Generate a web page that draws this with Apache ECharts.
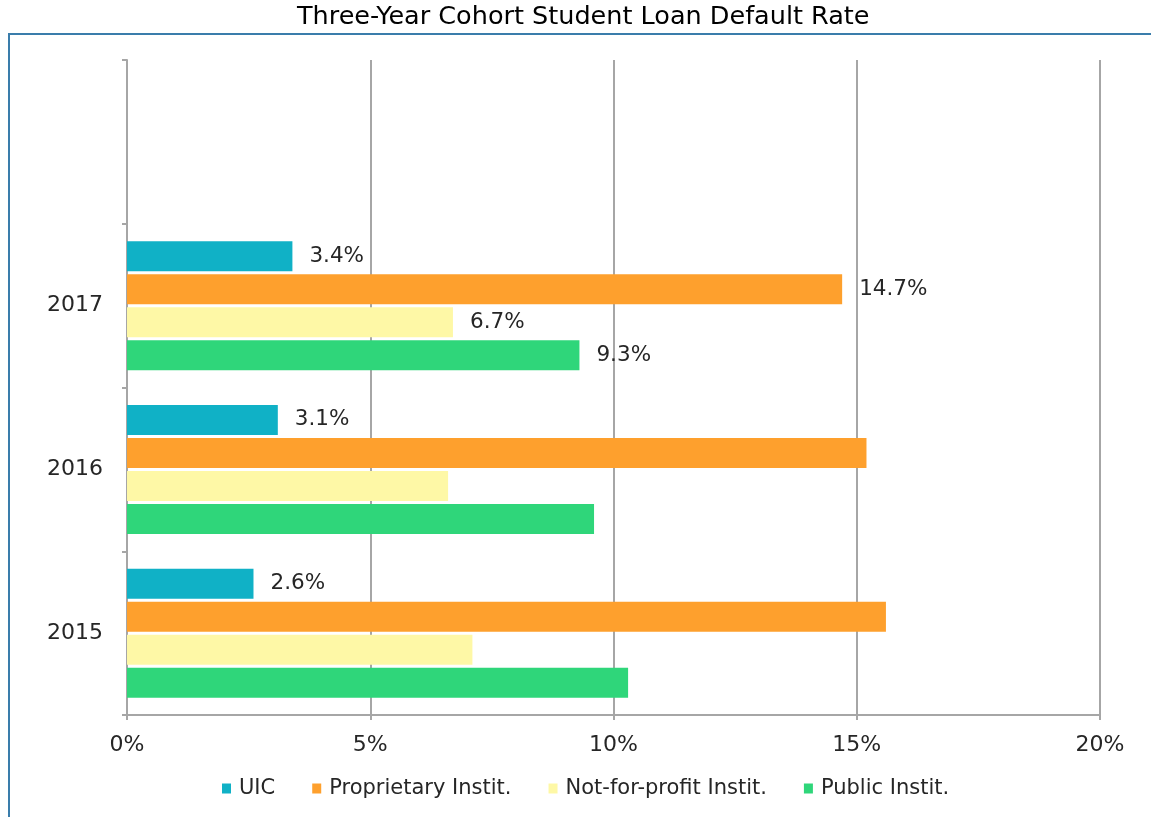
<!DOCTYPE html>
<html>
<head>
<meta charset="utf-8">
<script src="https://cdn.jsdelivr.net/npm/echarts@6/dist/echarts.min.js"></script>
<style>
html,body{margin:0;padding:0;background:#fff;}
#chart{width:1151px;height:817px;}
</style>
</head>
<body>
<div id="chart"></div>
<script>
// Data
var years = ["", "2017", "2016", "2015"];
var seriesNames = ["UIC", "Proprietary Instit.", "Not-for-profit Instit.", "Public Instit."];
var uic = [null, 3.4, 3.1, 2.6];
var proprietary = [null, 14.7, 15.2, 15.6];
var notForProfit = [null, 6.7, 6.6, 7.1];
var publicInst = [null, 9.3, 9.6, 10.3];
var xTicks = [0, 5, 10, 15, 20];
// which years carry a value label, per series
var labeledYears = [["2017", "2016", "2015"], ["2017"], ["2017"], ["2017"]];

var colors = ["#10b1c6", "#fea02d", "#fef8a6", "#2fd67a"];
var values = [uic, proprietary, notForProfit, publicInst];
var FONT = "DejaVu Sans";

function buildData(vals, labeled) {
  return vals.map(function (v, i) {
    return {
      value: v,
      label: { show: v !== null && labeled.indexOf(years[i]) >= 0 }
    };
  });
}

var series = seriesNames.map(function (name, k) {
  return {
    name: name,
    type: "bar",
    barWidth: 30,
    barGap: "10%",
    itemStyle: { color: colors[k] },
    label: {
      position: "right",
      distance: 17,
      color: "#262626",
      fontFamily: FONT,
      fontSize: 21.5,
      formatter: function (p) { return p.value.toFixed(1) + "%"; }
    },
    emphasis: { disabled: true },
    data: buildData(values[k], labeledYears[k])
  };
});

var chart = echarts.init(document.getElementById("chart"));
chart.setOption({
  animation: false,
  backgroundColor: "#ffffff",
  title: {
    text: "Three-Year Cohort Student Loan Default Rate",
    left: 292,
    top: -1,
    textStyle: { fontFamily: FONT, fontSize: 25.5, fontWeight: "normal", color: "#000" }
  },
  graphic: [{
    type: "rect",
    shape: { x: 9, y: 34, width: 1160, height: 800 },
    style: { fill: "none", stroke: "#3a7dab", lineWidth: 2 },
    silent: true
  }],
  legend: {
    data: seriesNames,
    bottom: 13,
    left: 217,
    itemWidth: 9,
    itemHeight: 10,
    itemGap: 37,
    icon: "rect",
    textStyle: { fontFamily: FONT, fontSize: 21, color: "#262626", padding: [0, 0, 0, 3] }
  },
  grid: { left: 127, right: 51, top: 60, bottom: 102, containLabel: false },
  xAxis: {
    type: "value",
    min: xTicks[0],
    max: xTicks[xTicks.length - 1],
    interval: xTicks[1] - xTicks[0],
    axisLine: { show: true, lineStyle: { color: "#a6a6a6", width: 2 } },
    axisTick: { show: true, length: 5, lineStyle: { color: "#a6a6a6", width: 2 } },
    axisLabel: {
      margin: 19,
      fontFamily: FONT, fontSize: 22, color: "#262626",
      formatter: function (v) { return v + "%"; }
    },
    splitLine: { show: true, lineStyle: { color: "#a6a6a6", width: 2 } }
  },
  yAxis: {
    type: "category",
    data: years,
    inverse: true,
    axisLine: { show: true, lineStyle: { color: "#a6a6a6", width: 2 } },
    axisTick: { show: true, length: 5, lineStyle: { color: "#a6a6a6", width: 2 } },
    axisLabel: { margin: 24, fontFamily: FONT, fontSize: 22, color: "#262626" },
    splitLine: { show: false }
  },
  series: series
});
</script>
</body>
</html>
